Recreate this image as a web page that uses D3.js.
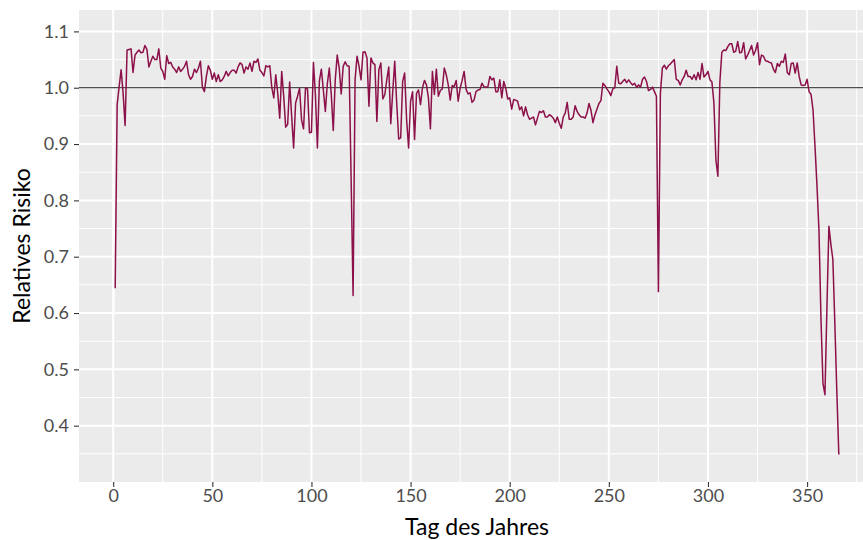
<!DOCTYPE html>
<html>
<head>
<meta charset="utf-8">
<script src="https://cdn.jsdelivr.net/npm/d3@7"></script>
<style>
  body { margin: 0; background: #fff; }
  text { font-family: Lato, "Open Sans", sans-serif; }
</style>
</head>
<body>
<script>
// relative risk per day of year
var riskValues = [
  0.644, 0.970, 1.002, 1.032, 0.990, 0.933, 1.067, 1.068, 1.069, 1.027,
  1.058, 1.063, 1.067, 1.062, 1.063, 1.075, 1.068, 1.037, 1.047, 1.056,
  1.050, 1.050, 1.069, 1.035, 1.029, 1.015, 1.057, 1.043, 1.045, 1.037,
  1.033, 1.027, 1.037, 1.029, 1.033, 1.038, 1.047, 1.023, 1.015, 1.020,
  1.033, 1.027, 1.035, 1.047, 1.001, 0.993, 1.020, 1.039, 1.031, 1.015,
  1.026, 1.011, 1.023, 1.011, 1.014, 1.020, 1.029, 1.021, 1.027, 1.031,
  1.031, 1.026, 1.037, 1.044, 1.041, 1.026, 1.037, 1.033, 1.044, 1.029,
  1.047, 1.045, 1.051, 1.031, 1.027, 1.021, 1.039, 1.037, 1.039, 1.000,
  0.982, 1.023, 0.990, 0.946, 1.029, 0.985, 0.930, 0.935, 1.010, 0.950,
  0.893, 0.973, 0.985, 0.999, 0.943, 0.927, 1.000, 0.998, 0.920, 0.921,
  1.045, 0.987, 0.893, 1.012, 1.033, 0.996, 0.958, 1.007, 1.035, 0.988,
  0.924, 1.014, 1.058, 1.035, 0.989, 1.038, 1.046, 1.039, 1.038, 0.840,
  0.631, 1.014, 1.056, 1.038, 1.014, 1.063, 1.064, 1.053, 0.967, 1.053,
  1.044, 1.041, 0.940, 1.032, 1.044, 0.980, 0.988, 1.014, 1.037, 0.936,
  0.993, 1.047, 0.973, 0.909, 0.911, 1.011, 1.026, 0.943, 0.893, 0.976,
  0.993, 0.908, 0.990, 0.996, 0.970, 1.000, 1.013, 1.005, 0.982, 0.927,
  1.029, 0.988, 1.033, 0.985, 0.995, 0.998, 1.035, 1.023, 1.005, 0.978,
  1.004, 1.002, 1.013, 0.976, 0.999, 1.013, 1.029, 0.997, 0.989, 0.991,
  0.974, 0.978, 0.993, 0.996, 0.997, 1.008, 1.002, 1.001, 1.002, 1.020,
  1.014, 1.017, 0.993, 0.993, 1.014, 0.982, 1.011, 0.999, 0.980, 0.982,
  0.962, 0.979, 0.978, 0.976, 0.961, 0.966, 0.950, 0.966, 0.952, 0.944,
  0.946, 0.948, 0.934, 0.946, 0.958, 0.956, 0.959, 0.948, 0.948, 0.952,
  0.950, 0.946, 0.938, 0.948, 0.937, 0.928, 0.948, 0.955, 0.974, 0.944,
  0.944, 0.948, 0.968, 0.958, 0.952, 0.948, 0.948, 0.946, 0.955, 0.972,
  0.960, 0.938, 0.952, 0.962, 0.972, 0.977, 1.008, 1.004, 0.998, 0.993,
  0.986, 0.998, 1.000, 1.038, 1.008, 1.007, 1.011, 1.015, 1.009, 1.014,
  1.009, 1.005, 1.008, 1.001, 1.005, 1.001, 1.015, 1.019, 1.011, 0.995,
  0.997, 1.001, 0.993, 0.985, 0.638, 0.990, 1.035, 1.040, 1.033, 1.039,
  1.042, 1.046, 1.050, 1.015, 1.013, 1.005, 1.014, 1.020, 1.031, 1.020,
  1.020, 1.015, 1.023, 1.014, 1.027, 1.015, 1.043, 1.019, 1.023, 1.029,
  1.014, 1.010, 0.973, 0.872, 0.843, 1.010, 1.063, 1.067, 1.066, 1.073,
  1.078, 1.078, 1.063, 1.065, 1.082, 1.062, 1.063, 1.080, 1.051, 1.058,
  1.066, 1.075, 1.058, 1.066, 1.080, 1.041, 1.058, 1.056, 1.048, 1.047,
  1.045, 1.044, 1.033, 1.027, 1.043, 1.038, 1.047, 1.045, 1.060, 1.027,
  1.023, 1.043, 1.044, 1.026, 1.044, 1.020, 1.005, 1.004, 1.005, 1.015,
  0.993, 0.988, 0.960, 0.895, 0.825, 0.745, 0.590, 0.475, 0.455, 0.610,
  0.754, 0.722, 0.695, 0.580, 0.460, 0.349
];
var days = d3.range(1, riskValues.length + 1);

// faint light segment near day 1
var faintDays = [1, 1];
var faintValues = [0.595, 1.015];

var xTicks = [0, 50, 100, 150, 200, 250, 300, 350];
var yTicks = [0.4, 0.5, 0.6, 0.7, 0.8, 0.9, 1.0, 1.1];
var refValue = 1.0;

var width = 863, height = 540;
var panel = {left: 79, right: 875, top: 10, bottom: 482};

var svg = d3.select("body").append("svg")
    .attr("width", width)
    .attr("height", height);

var x = d3.scaleLinear().domain([-17.25, 384.25]).range([panel.left, panel.right]);
var y = d3.scaleLinear().domain([0.30, 1.138]).range([panel.bottom, panel.top]);

// panel background
svg.append("rect")
    .attr("x", panel.left).attr("y", panel.top)
    .attr("width", panel.right - panel.left)
    .attr("height", panel.bottom - panel.top)
    .attr("fill", "#ebebeb");

var grid = svg.append("g");

// minor grid
var xMinor = xTicks.map(d => d + 25).concat([-25]).filter(d => x(d) >= panel.left && x(d) <= panel.right);
var yMinor = yTicks.map(d => d - 0.05).concat([1.15]).filter(d => y(d) >= panel.top && y(d) <= panel.bottom);

grid.selectAll(".xminor").data(xMinor).enter().append("line")
    .attr("x1", d => x(d)).attr("x2", d => x(d))
    .attr("y1", panel.top).attr("y2", panel.bottom)
    .attr("stroke", "#fff").attr("stroke-width", 1);
grid.selectAll(".yminor").data(yMinor).enter().append("line")
    .attr("x1", panel.left).attr("x2", panel.right)
    .attr("y1", d => y(d)).attr("y2", d => y(d))
    .attr("stroke", "#fff").attr("stroke-width", 1);

// major grid
grid.selectAll(".xmajor").data(xTicks).enter().append("line")
    .attr("x1", d => x(d)).attr("x2", d => x(d))
    .attr("y1", panel.top).attr("y2", panel.bottom)
    .attr("stroke", "#fff").attr("stroke-width", 2);
grid.selectAll(".ymajor").data(yTicks).enter().append("line")
    .attr("x1", panel.left).attr("x2", panel.right)
    .attr("y1", d => y(d)).attr("y2", d => y(d))
    .attr("stroke", "#fff").attr("stroke-width", 2);

// faint segment
svg.append("path")
    .datum(d3.zip(faintDays, faintValues))
    .attr("fill", "none")
    .attr("stroke", "#f7f7f7")
    .attr("stroke-width", 1.2)
    .attr("d", d3.line().x(d => x(d[0]) - 0.6).y(d => y(d[1])));

// reference line at 1
svg.append("line")
    .attr("x1", panel.left).attr("x2", panel.right)
    .attr("y1", y(refValue)).attr("y2", y(refValue))
    .attr("stroke", "#000").attr("stroke-width", 0.9);

// risk line
var line = d3.line()
    .x((d, i) => x(days[i]))
    .y(d => y(d));

svg.append("path")
    .datum(riskValues)
    .attr("fill", "none")
    .attr("stroke", "#8c1049")
    .attr("stroke-width", 1.5)
    .attr("stroke-linejoin", "round")
    .attr("d", line);

// axes
var xAxis = svg.append("g")
    .attr("transform", "translate(0," + panel.bottom + ")")
    .call(d3.axisBottom(x).tickValues(xTicks).tickSize(5).tickPadding(2).tickFormat(d3.format("d")));
var yAxis = svg.append("g")
    .attr("transform", "translate(" + panel.left + ",0)")
    .call(d3.axisLeft(y).tickValues(yTicks).tickSize(5).tickPadding(5).tickFormat(d3.format(".1f")));

[xAxis, yAxis].forEach(function(a) {
  a.select(".domain").remove();
  a.selectAll(".tick line").attr("stroke", "#333").attr("stroke-width", 1.1);
  a.selectAll(".tick text")
      .attr("fill", "#4d4d4d")
      .style("font-size", "18px")
      .style("font-family", "Lato, sans-serif");
});

// axis titles
svg.append("text")
    .attr("x", (panel.left + panel.right) / 2)
    .attr("y", 535)
    .attr("text-anchor", "middle")
    .style("font-size", "23px")
    .text("Tag des Jahres");

svg.append("text")
    .attr("transform", "translate(30," + ((panel.top + panel.bottom) / 2) + ") rotate(-90)")
    .attr("text-anchor", "middle")
    .style("font-size", "23px")
    .text("Relatives Risiko");
</script>
</body>
</html>
